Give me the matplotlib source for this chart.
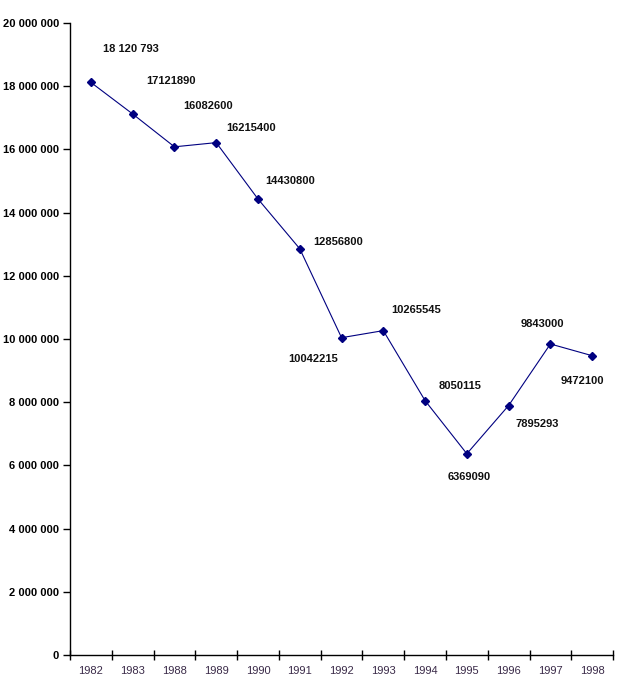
import matplotlib
matplotlib.use("Agg")
import matplotlib.pyplot as plt
from matplotlib.ticker import FuncFormatter, FixedLocator
import numpy as np

years = ["1982", "1983", "1988", "1989", "1990", "1991", "1992",
         "1993", "1994", "1995", "1996", "1997", "1998"]
values = [18120793, 17121890, 16082600, 16215400, 14430800, 12856800,
          10042215, 10265545, 8050115, 6369090, 7895293, 9843000, 9472100]
value_labels = ["18 120 793", "17121890", "16082600", "16215400", "14430800",
                "12856800", "10042215", "10265545", "8050115", "6369090",
                "7895293", "9843000", "9472100"]

# label offsets in pixels (dx, dy), hand placed like the excel original
label_offsets = [(40, 33), (38, 33), (34, 41), (35, 15), (32, 18), (38, 7),
                 (-28, -21), (33, 21), (35, 15), (2, -23), (29, -18),
                 (-8, 20), (-10, -25)]

plt.rcParams['font.family'] = ['Liberation Sans', 'DejaVu Sans']

fig = plt.figure(figsize=(6.18, 6.98), dpi=100)
ax = fig.add_axes([0.1133, 0.0616, 0.8787, 0.9054])

x = np.arange(len(years))
ax.plot(x, values, color='#000080', linewidth=0.8, marker='D',
        markersize=4.5, markerfacecolor='#000080', markeredgecolor='#000080')

for xi, v, txt, (dx, dy) in zip(x, values, value_labels, label_offsets):
    ax.annotate(txt, (xi, v), xytext=(dx, dy), textcoords='offset pixels',
                ha='center', va='center', fontsize=8, fontweight='bold',
                color='#111111')

ax.set_xlim(-0.5, len(years) - 0.5)
ax.set_ylim(0, 20000000)
ax.set_yticks(np.arange(0, 20000001, 2000000))
ax.yaxis.set_major_formatter(
    FuncFormatter(lambda v, p: "{:,}".format(int(v)).replace(",", " ")))

ax.set_xticks(x)
ax.set_xticklabels(years)
ax.xaxis.set_minor_locator(FixedLocator(np.arange(-0.5, len(years), 1.0)))
ax.tick_params(axis='x', which='major', length=0, pad=8, labelsize=8,
               labelcolor='#3a2a48')
ax.tick_params(axis='x', which='minor', length=7, width=1,
               direction='inout')
ax.tick_params(axis='y', length=5, width=1, labelsize=8, pad=3)
for lbl in ax.get_yticklabels():
    lbl.set_fontweight('bold')

ax.spines['top'].set_visible(False)
ax.spines['right'].set_visible(False)
ax.spines['left'].set_linewidth(1)
ax.spines['bottom'].set_linewidth(1)

fig.savefig("out.png", dpi=100)
